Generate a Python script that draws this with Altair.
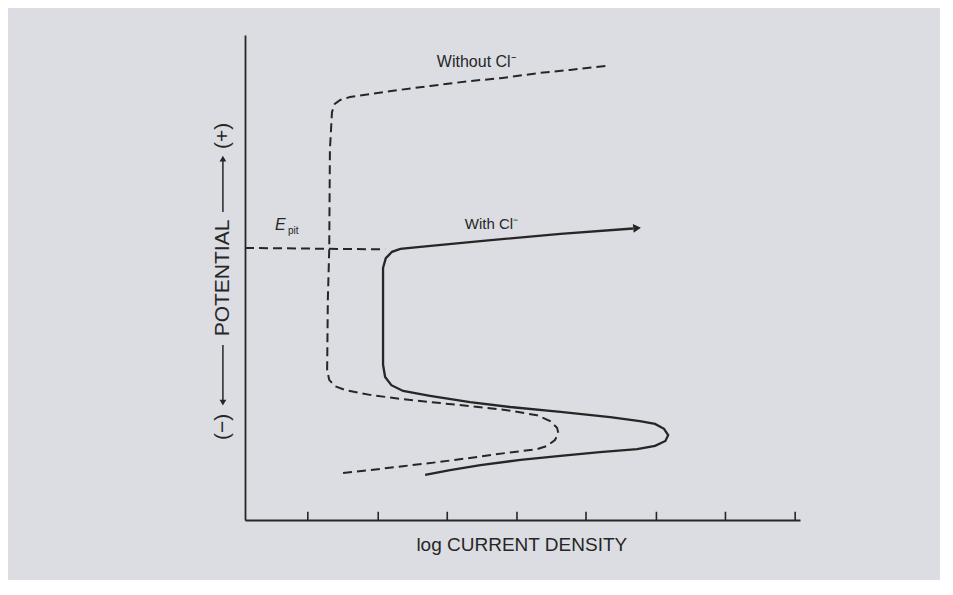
import altair as alt
import pandas as pd

# ---- data (x = log current density units, y = potential units)
without_x = [5.22, 4.71, 4.28, 3.70, 3.26, 2.68, 2.25, 1.81, 1.52, 1.38, 1.30, 1.26, 1.23, 1.22, 1.20,
             1.19, 1.22, 1.30, 1.45, 1.81, 2.29, 2.83, 3.26, 3.77, 4.23, 4.42, 4.52, 4.54, 4.49,
             4.38, 4.23, 3.77, 3.26, 2.83, 2.29, 1.81, 1.42]
without_y = [9.36, 9.28, 9.22, 9.11, 9.05, 8.95, 8.87, 8.78, 8.72, 8.66, 8.58, 8.41, 7.63, 5.57, 4.54,
             3.09, 2.89, 2.76, 2.68, 2.58, 2.49, 2.41, 2.35, 2.27, 2.16, 2.04, 1.90, 1.79, 1.65,
             1.53, 1.46, 1.38, 1.28, 1.20, 1.11, 1.03, 0.97]

with_x = [5.62, 4.57, 3.41, 2.54, 2.25, 2.13, 2.04, 2.00, 2.00, 2.03, 2.12, 2.29, 2.68, 3.26, 3.84,
          4.57, 5.29, 5.72, 5.94, 6.07, 6.13, 6.09, 5.94, 5.68, 5.14, 4.57, 3.99, 3.41, 2.97, 2.61]
with_y = [6.01, 5.90, 5.75, 5.63, 5.59, 5.53, 5.40, 5.20, 3.20, 2.95, 2.78, 2.66, 2.56, 2.43, 2.33,
          2.23, 2.12, 2.04, 1.98, 1.88, 1.75, 1.63, 1.53, 1.46, 1.40, 1.32, 1.24, 1.13, 1.03, 0.93]

epit_x = [0.0, 2.03]
epit_y = [5.61, 5.58]

arrow_x = [5.68]
arrow_y = [6.02]

tick_x = [0.91, 1.93, 2.93, 3.94, 4.94, 5.96, 6.96, 7.97]
tick_len = 0.17

# y-title pieces (rotated) and its two arrows
ytitle_x = -0.32
ytitle_text = ["(+)", "POTENTIAL", "(\u2212)"]
ytitle_y = [7.92, 4.99, 1.92]
yarrow_from = [6.35, 3.61]
yarrow_to = [7.45, 2.42]
yarrow_shape = ["triangle-up", "triangle-down"]

ink = "#262626"

without_df = pd.DataFrame({"x": without_x, "y": without_y, "o": list(range(len(without_x)))})
with_df = pd.DataFrame({"x": with_x, "y": with_y, "o": list(range(len(with_x)))})
epit_df = pd.DataFrame({"x": epit_x, "y": epit_y, "o": [0, 1]})
arrow_df = pd.DataFrame({"x": arrow_x, "y": arrow_y})
tick_df = pd.DataFrame({"x": tick_x, "y": [0.0] * len(tick_x), "y2": [tick_len] * len(tick_x)})

xs = alt.Scale(domain=[0, 8.04], nice=False, zero=False)
ys = alt.Scale(domain=[0, 10], nice=False, zero=False)
ax = alt.Axis(title="", labels=False, ticks=False, grid=False, domainColor=ink, domainWidth=1.8)


def X():
    return alt.X("x:Q", scale=xs, axis=ax)


def Y():
    return alt.Y("y:Q", scale=ys, axis=ax)


without_line = alt.Chart(without_df).mark_line(
    strokeDash=[9, 5], strokeWidth=2, color=ink, interpolate="linear"
).encode(x=X(), y=Y(), order="o:Q")

with_line = alt.Chart(with_df).mark_line(
    strokeWidth=2.3, color=ink, interpolate="linear"
).encode(x=X(), y=Y(), order="o:Q")

epit_line = alt.Chart(epit_df).mark_line(
    strokeDash=[9, 5], strokeWidth=2, color=ink
).encode(x=X(), y=Y(), order="o:Q")

arrow = alt.Chart(arrow_df).mark_point(
    shape="triangle-right", filled=True, size=80, angle=355, color=ink, opacity=1
).encode(x=X(), y=Y())

ticks = alt.Chart(tick_df).mark_rule(color=ink, strokeWidth=1.6).encode(
    x=X(), y=Y(), y2="y2:Q"
)

# ---- text labels
labels_df = pd.DataFrame({
    "x": [3.35, 3.57],
    "y": [9.44, 6.10],
    "t": ["Without Cl\u207b", "With Cl\u207b"],
    "s": [16, 15],
})
labels = alt.Chart(labels_df).mark_text(
    font="Liberation Sans", color=ink
).encode(x=X(), y=Y(), text="t:N", size=alt.Size("s:Q", scale=None, legend=None))

e_df = pd.DataFrame({"x": [0.51], "y": [6.08], "t": ["E"]})
e_text = alt.Chart(e_df).mark_text(
    font="Liberation Sans", fontSize=16, fontStyle="italic", color=ink
).encode(x=X(), y=Y(), text="t:N")

pit_df = pd.DataFrame({"x": [0.70], "y": [5.95], "t": ["pit"]})
pit_text = alt.Chart(pit_df).mark_text(
    font="Liberation Sans", fontSize=10, color=ink
).encode(x=X(), y=Y(), text="t:N")

ytitle_df = pd.DataFrame({"x": [ytitle_x] * 3, "y": ytitle_y, "t": ytitle_text})
ytitle = alt.Chart(ytitle_df).mark_text(
    font="Liberation Sans", fontSize=21, angle=270, color=ink
).encode(x=X(), y=Y(), text="t:N")

yarrow_df = pd.DataFrame({
    "x": [ytitle_x] * 2, "y": yarrow_from, "y2": yarrow_to, "shape": yarrow_shape,
})
yarrow_lines = alt.Chart(yarrow_df).mark_rule(color=ink, strokeWidth=1.5).encode(
    x=X(), y=Y(), y2="y2:Q"
)
yarrow_heads = alt.Chart(yarrow_df).mark_point(
    filled=True, size=45, color=ink, opacity=1
).encode(
    x=X(), y=alt.Y("y2:Q", scale=ys, axis=ax),
    shape=alt.Shape("shape:N", scale=None, legend=None),
)

xtitle_df = pd.DataFrame({"x": [4.01], "y": [-0.52], "t": ["log CURRENT DENSITY"]})
xtitle = alt.Chart(xtitle_df).mark_text(
    font="Liberation Sans", fontSize=19, color=ink
).encode(x=X(), y=Y(), text="t:N")

chart = alt.layer(
    epit_line, without_line, with_line, arrow, ticks,
    labels, e_text, pit_text, ytitle, yarrow_lines, yarrow_heads, xtitle
).properties(
    width=555, height=485, autosize="none",
    padding={"left": 237, "top": 27, "right": 140, "bottom": 60},
    background="#dcdde3",
).configure_view(strokeWidth=0)

chart.save("out.html", embed_options={"renderer": "svg", "actions": False})
